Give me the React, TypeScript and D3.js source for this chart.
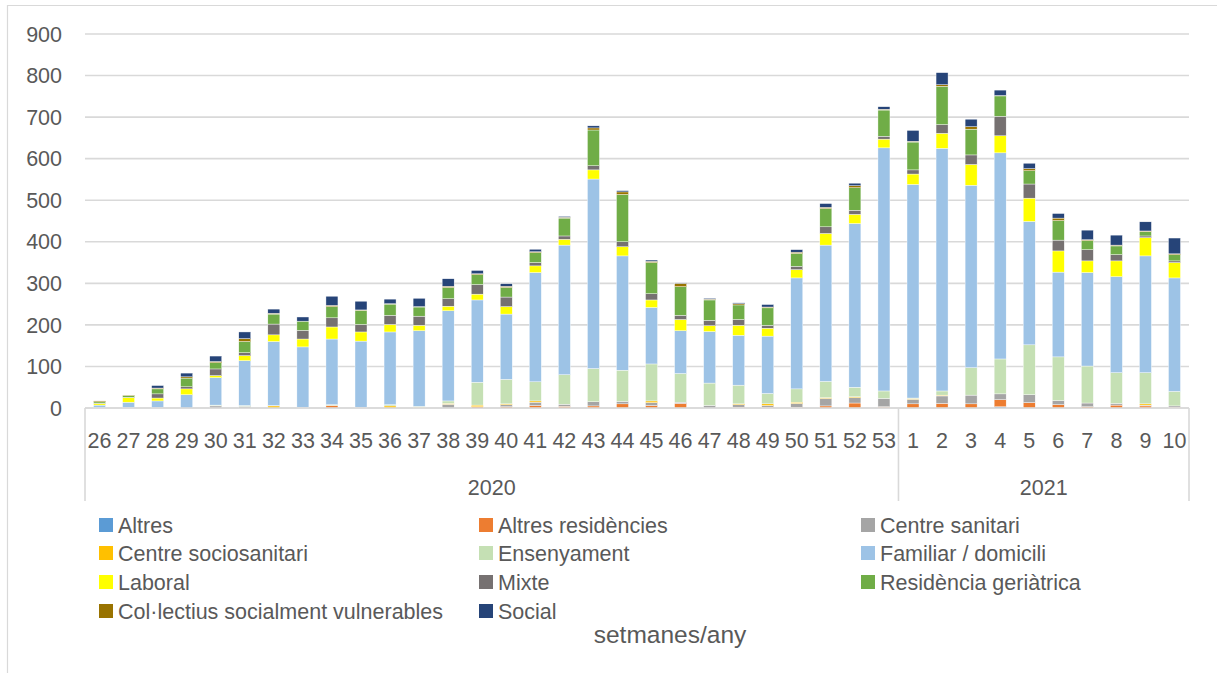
import React from "react";
import * as d3 from "d3";

const weeks = [
  "26", "27", "28", "29", "30", "31", "32", "33", "34", "35", "36", "37", "38", "39",
  "40", "41", "42", "43", "44", "45", "46", "47", "48", "49", "50", "51", "52", "53",
  "1", "2", "3", "4", "5", "6", "7", "8", "9", "10",
];
const years = [
  { label: "2020", count: 28 },
  { label: "2021", count: 10 },
];
const yTicks = [0, 100, 200, 300, 400, 500, 600, 700, 800, 900];

const seriesNames = [
  "Altres",
  "Altres residències",
  "Centre sanitari",
  "Centre sociosanitari",
  "Ensenyament",
  "Familiar / domicili",
  "Laboral",
  "Mixte",
  "Residència geriàtrica",
  "Col·lectius socialment vulnerables",
  "Social",
];
const seriesColors = [
  "#5B9BD5", "#ED7D31", "#A5A5A5", "#FFC000", "#C5E0B4", "#9DC3E6",
  "#FFFF00", "#767171", "#70AD47", "#997300", "#264478",
];

// values per week (26..53 of 2020, 1..10 of 2021)
const altres = [0,0,0,0,0,0,0,0,0,0,0,0,0,0,0,0,0,0,0,0,0,0,0,0,0,0,0,1,0,0,0,3,0,0,0,0,0,0];
const altresResidencies = [0,0,0,0,0,0,0,0,6,0,0,0,0,3,3,6,4,5,10,6,11,0,2,2,2,5,12,2,10,11,10,17,13,8,3,7,5,2];
const centreSanitari = [0,0,1,0,5,4,0,2,0,2,0,0,9,0,5,8,5,10,6,7,3,6,6,4,9,18,13,20,11,18,21,14,19,10,9,4,2,3];
const centreSociosanitari = [0,0,0,0,0,0,5,0,0,0,5,2,2,4,2,3,0,0,0,4,0,0,2,4,3,2,2,0,2,2,0,0,0,0,0,0,3,0];
const ensenyament = [1,1,0,0,2,2,1,0,2,0,3,2,6,55,59,46,71,80,75,89,69,54,45,25,32,39,23,18,1,10,66,84,120,105,89,74,75,35];
const familiar = [6,13,16,32,66,108,154,145,158,159,175,182,217,198,157,263,312,456,275,136,103,124,120,138,267,328,394,585,514,584,439,496,297,204,225,231,281,273];
const laboral = [4,11,7,14,5,12,16,19,29,22,18,13,11,14,18,16,14,22,22,18,27,14,24,19,20,28,22,21,25,36,50,41,56,51,28,38,44,37];
const mixte = [1,1,10,5,16,7,26,21,22,18,22,22,18,23,23,8,8,10,12,15,10,13,14,7,8,16,10,7,10,21,23,47,34,26,27,15,4,4];
const residencia = [3,4,12,21,15,27,24,22,27,34,27,22,27,24,23,24,43,86,114,75,69,49,35,42,31,44,54,63,67,92,62,49,32,47,22,21,10,15];
const collectius = [2,1,2,3,3,7,2,0,3,1,1,1,3,2,3,2,2,5,6,3,8,2,3,2,3,3,5,2,2,4,6,1,5,6,2,2,2,2];
const social = [0,0,6,9,13,16,10,10,22,21,11,20,18,8,6,6,2,5,3,3,1,2,2,6,6,9,6,6,26,29,18,13,13,11,23,24,22,38];

const seriesValues = [
  altres, altresResidencies, centreSanitari, centreSociosanitari, ensenyament,
  familiar, laboral, mixte, residencia, collectius, social,
];

const W = 1217;
const H = 673;
const plotLeft = 85;
const plotRight = 1189;
const plotTop = 34;
const plotBottom = 408;
const font = "'Liberation Sans', Arial, sans-serif";
const textColor = "#595959";
const gridColor = "#D9D9D9";

export default function App() {
  const rows = weeks.map((w, i) => {
    const r: Record<string, number | string> = { idx: String(i) };
    seriesNames.forEach((s, k) => (r[s] = seriesValues[k][i]));
    return r;
  });
  const stack = d3.stack<Record<string, any>>().keys(seriesNames);
  const stacked = stack(rows as any);

  const x = d3
    .scaleBand<string>()
    .domain(weeks.map((_, i) => String(i)))
    .range([plotLeft, plotRight])
    .padding(0);
  const step = x.step();
  const barW = 12;
  const y = d3.scaleLinear().domain([0, 900]).range([plotBottom, plotTop]);

  // group boundaries
  const bounds: number[] = [plotLeft];
  let acc = 0;
  years.forEach((g) => {
    acc += g.count;
    bounds.push(plotLeft + acc * step);
  });

  const legendCols = [99, 479, 861];
  const legendRows = [525, 553, 582, 611];

  return (
    <svg
      width={W}
      height={H}
      style={{ position: "absolute", left: 0, top: 0, background: "#fff" }}
      fontFamily={font}
    >
      <path d={`M7.5,${H} V5.5 H${W}`} fill="none" stroke={gridColor} strokeWidth={1.2} />

      {yTicks.map((t) => (
        <g key={t}>
          <line
            x1={plotLeft}
            x2={plotRight}
            y1={y(t)}
            y2={y(t)}
            stroke={gridColor}
            strokeWidth={1.6}
          />
          <text x={62} y={y(t) + 7.7} textAnchor="end" fontSize={21.5} fill={textColor}>
            {t}
          </text>
        </g>
      ))}

      {stacked.map((layer, k) => (
        <g key={layer.key} fill={seriesColors[k]}>
          {layer.map((d, i) => {
            const h = y(d[0]) - y(d[1]);
            if (h <= 0) return null;
            return (
              <rect
                key={i}
                x={(x(String(i)) as number) + (step - barW) / 2}
                y={y(d[1])}
                width={barW}
                height={h}
                stroke="#ffffff"
                strokeWidth={0.4}
              />
            );
          })}
        </g>
      ))}

      {/* category axis */}
      <line x1={plotLeft} x2={plotRight} y1={plotBottom} y2={plotBottom} stroke={gridColor} strokeWidth={1.6} />
      {bounds.map((b, i) => (
        <line key={i} x1={b} x2={b} y1={plotBottom} y2={501} stroke={gridColor} strokeWidth={1.6} />
      ))}
      {weeks.map((w, i) => (
        <text
          key={i}
          x={(x(String(i)) as number) + step / 2}
          y={448}
          textAnchor="middle"
          fontSize={21.5}
          fill={textColor}
        >
          {w}
        </text>
      ))}
      {years.map((g, i) => (
        <text
          key={g.label}
          x={(bounds[i] + bounds[i + 1]) / 2}
          y={495}
          textAnchor="middle"
          fontSize={21.5}
          fill={textColor}
        >
          {g.label}
        </text>
      ))}

      {/* legend */}
      {seriesNames.map((s, k) => {
        const col = k % 3;
        const row = Math.floor(k / 3);
        const lx = legendCols[col];
        const ly = legendRows[row];
        return (
          <g key={s}>
            <rect x={lx} y={ly - 7} width={14} height={14} fill={seriesColors[k]} />
            <text x={lx + 19} y={ly + 7.5} fontSize={21.5} fill={textColor}>
              {s}
            </text>
          </g>
        );
      })}

      <text x={670} y={643} textAnchor="middle" fontSize={24.5} fill={textColor}>
        setmanes/any
      </text>
    </svg>
  );
}
